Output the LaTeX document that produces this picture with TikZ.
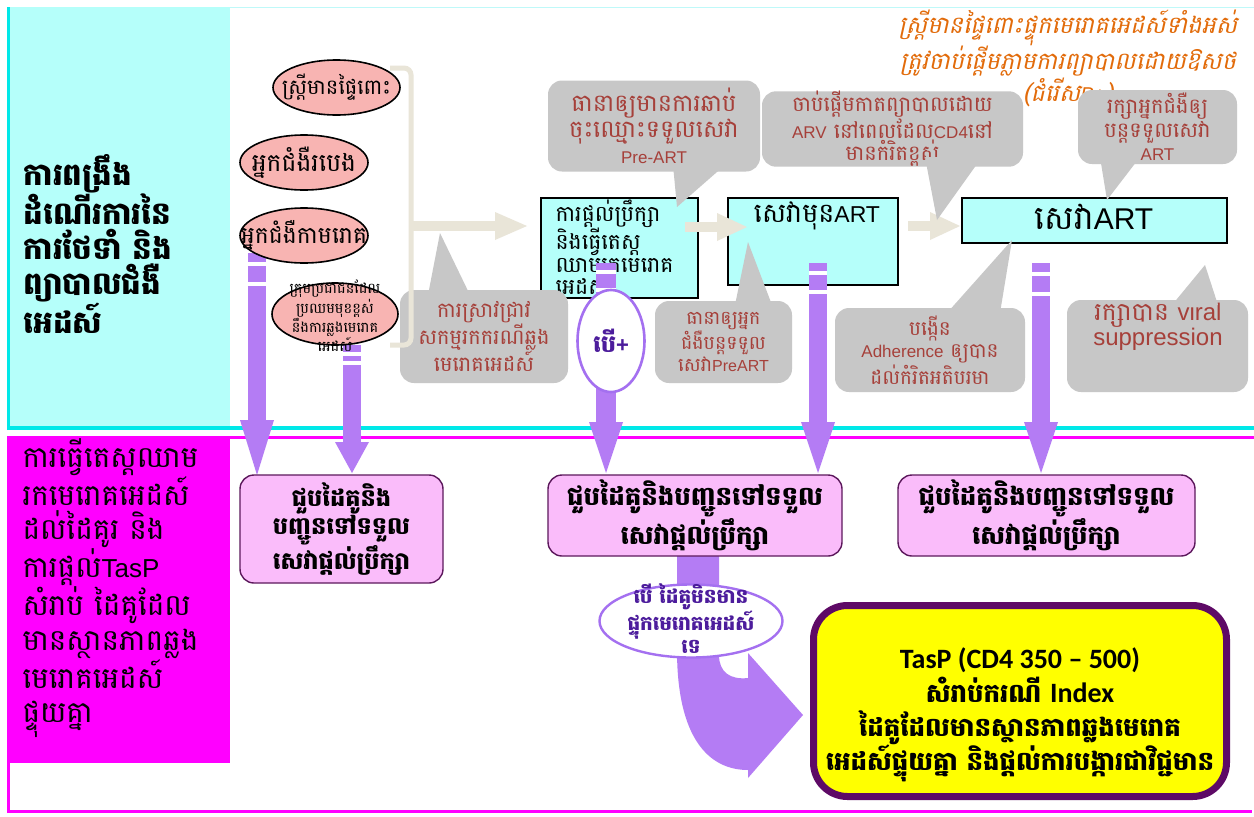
\documentclass[tikz,border=0pt]{standalone}
\usepackage{fontspec}
\usetikzlibrary{shapes.geometric}
\newfontfamily\kh[Script=Khmer]{Battambang}
\newfontfamily\khit[Script=Khmer,FakeSlant=0.22]{Battambang}
\newfontfamily\la{Liberation Sans}
\newfontfamily\calib{Carlito}
\newcommand\fs[2]{\fontsize{#1}{#2}\selectfont}
\newcommand\LT[2]{{\la\fontsize{#1}{#1}\selectfont #2}}
\definecolor{cyanfill}{RGB}{181,255,250}
\definecolor{cyanline}{RGB}{0,232,232}
\definecolor{magc}{RGB}{255,0,255}
\definecolor{pinkell}{RGB}{248,180,178}
\definecolor{cgray}{RGB}{199,199,199}
\definecolor{cred}{RGB}{166,64,58}
\definecolor{beigec}{RGB}{233,229,216}
\definecolor{parrowc}{RGB}{180,124,244}
\definecolor{pboxfill}{RGB}{250,188,250}
\definecolor{pboxline}{RGB}{92,24,92}
\definecolor{bpline}{RGB}{164,112,240}
\definecolor{bptext}{RGB}{76,28,156}
\definecolor{yfill}{RGB}{255,255,0}
\definecolor{yline}{RGB}{94,10,102}
\definecolor{orangec}{RGB}{226,107,10}
\newcommand\purparrow[7]{%
  \fill[parrowc] (#1-#5,#2) rectangle (#1+#5,#3);
  \fill[parrowc] (#1-17,#3) -- (#1+17,#3) -- (#1,#4) -- cycle;
  \fill[white] (#1-#5,#6) rectangle (#1+#5,#6+3.5);
  \fill[white] (#1-#5,#7) rectangle (#1+#5,#7+3.5);}
\newcommand\beigearrow[4]{%
  \fill[beigec] (#1,#4-5) rectangle (#2,#4+5);
  \fill[beigec] (#2,#4-14) -- (#3,#4) -- (#2,#4+14) -- cycle;}
\begin{document}
\begin{tikzpicture}[x=1pt,y=-1pt,
  ell/.style={ellipse, draw=black, line width=1.6pt, fill=pinkell, inner sep=0pt},
  elltext/.style={inner sep=0pt, align=center, font=\kh\fs{21}{22}},
  cbox/.style={rectangle, draw=black, line width=1.5pt, fill=cyanfill, inner sep=0pt},
  call/.style={rectangle, rounded corners=14pt, fill=cgray, inner sep=0pt, text=cred, align=center, font=\kh\fs{21}{24}},
  pbox/.style={rectangle, rounded corners=14pt, draw=pboxline, line width=1.4pt, fill=pboxfill, align=center, inner sep=0pt, font=\kh\bfseries\fs{24}{28}},
  ptr/.style={fill=cgray}]
\useasboundingbox (0,0) rectangle (1254,817);
\fill[white] (0,0) rectangle (1254,817);
% backgrounds
\draw[cyanline!25, line width=1pt] (230,7) -- (1254,7);
\fill[cyanfill] (8,7) rectangle (230,428);
\fill[cyanline] (7,7) rectangle (10,428);
\fill[cyanline] (7,426) rectangle (1254,430);
\fill[magc] (7,436) rectangle (1254,439);
\fill[magc] (7,437) rectangle (230,763);
\fill[magc] (7,437) rectangle (10,813);
\fill[magc] (7,810) rectangle (1252,813);
% left texts
\node[anchor=west, align=left, font=\kh\bfseries\fs{31}{35}] (head) at (20,244)
  {ការពង្រឹង\\ដំណើរការនៃ\\ការថែទាំ និង\\ព្យាបាលជំងឺ\\អេដស៍};
\node[anchor=west, align=left, font=\kh\fs{29.5}{34.5}] (mtext) at (19,588)
  {ការធ្វើតេស្តឈាម\\រកមេរោគអេដស៍\\ដល់ដៃគូរ និង\\ការផ្តល់\LT{26}{TasP}\\សំរាប់ ដៃគូដែល\\មានស្ថានភាពឆ្លង\\មេរោគអេដស៍\\ផ្ទុយគ្នា};
% orange note
\node[align=center, text=orangec, font=\khit\fs{24}{25.5}] (note) at (1068,58)
  {ស្ត្រីមានផ្ទៃពោះផ្ទុកមេរោគអេដស៍ទាំងអស់\\ត្រូវចាប់ផ្តើមភ្លាមការព្យាបាលដោយឱសថ\\(ជំរើស{\la\itshape\fontsize{20}{20}\selectfont B+})};
% cyan boxes
\node[cbox, minimum width=157pt, minimum height=100pt] (b1) at (619.5,248) {};
\node[anchor=west, align=left, font=\kh\fs{22}{22.3}] (b1t) at (552,247)
  {ការផ្តល់ប្រឹក្សា\\និងធ្វើតេស្ត\\ឈាមរកមេរោគ\\អេដស៍};
\node[cbox, minimum width=170pt, minimum height=87pt] (b2) at (813,241.5) {};
\node[font=\kh\fs{27}{28}] (b2t) at (817,216) {សេវាមុន\LT{23}{ART}};
\node[cbox, minimum width=265pt, minimum height=45pt] (b3) at (1094.5,220.5) {};
\node[font=\kh\fs{33}{34}] (b3t) at (1094,217) {សេវា\LT{30}{ART}};
% beige arrows between boxes
\beigearrow{685}{717}{747}{227}
\beigearrow{908}{930}{960}{226}
% purple arrows
\purparrow{257}{253}{420}{475}{9}{262}{282}
\purparrow{352}{345}{442}{473}{9}{352}{361}
\purparrow{606}{263}{422}{473}{10}{270}{288}
\purparrow{818}{263}{422}{473}{9}{271}{290}
\purparrow{1041}{263}{422}{473}{9}{272}{292}
% pink ellipses
\node[ell, minimum width=127pt, minimum height=55pt] (e1) at (336.5,87.5) {};
\node[elltext] (e1t) at (e1.center) {ស្ត្រីមានផ្ទៃពោះ};
\node[ell, minimum width=128pt, minimum height=55pt] (e2) at (304,162.5) {};
\node[elltext, font=\kh\fs{25}{26}] (e2t) at (e2.center) {អ្នកជំងឺរបេង};
\node[ell, minimum width=128pt, minimum height=55pt] (e3) at (304,235.5) {};
\node[elltext, font=\kh\fs{23.5}{26}] (e3t) at (e3.center) {អ្នកជំងឺកាមរោគ};
\node[ell, minimum width=126pt, minimum height=62pt] (e4) at (335,314) {};
\node[elltext, font=\kh\fs{14.5}{13.8}] (e4t) at (335,316)
  {ក្រុមប្រជាជនដែល\\ប្រឈមមុខខ្ពស់\\នឹងការឆ្លងមេរោគ\\អេដស៍};
% ellipse positive
\node[ellipse, draw=bpline, line width=2.6pt, fill=white, minimum width=67pt, minimum height=102pt, inner sep=0pt] (pos) at (611,341) {};
\node[inner sep=0pt, text=bptext, font=\kh\bfseries\fs{24}{24}] (post) at (pos.center) {បើ{\la\bfseries\fontsize{22}{22}\selectfont +}};
% callouts
\node[call, minimum width=168pt, minimum height=93pt] (cscan) at (484,336.5)
  {ការស្រាវជ្រាវ\\សកម្មរកករណីឆ្លង\\មេរោគអេដស៍};
\fill[ptr] (428,295) -- (440,233) -- (470,295) -- cycle;
\node[call, minimum width=212pt, minimum height=91pt, font=\kh\fs{24}{26}] (creg) at (654,126)
  {ធានាឲ្យមានការឆាប់\\ចុះឈ្មោះទទួលសេវា\\\LT{17}{Pre-ART}};
\fill[ptr] (673,165) -- (677,207) -- (725,165) -- cycle;
\node[call, minimum width=137pt, minimum height=82pt, font=\kh\fs{19}{22.5}] (cpre) at (723.5,342)
  {ធានាឲ្យអ្នក\\ជំងឺបន្តទទួល\\សេវា\LT{16}{PreART}};
\fill[ptr] (735,305) -- (748,242) -- (772,305) -- cycle;
\node[call, minimum width=261pt, minimum height=74pt, font=\kh\fs{21}{22.5}] (carv) at (892.5,129)
  {ចាប់ផ្តើមកាតព្យាបាលដោយ\\\LT{17}{ARV} នៅពេលដែល\LT{17}{CD4}នៅ\\មានកំរិតខ្ពស់};
\fill[ptr] (925,157) -- (937,220) -- (982,157) -- cycle;
\node[call, minimum width=159pt, minimum height=74pt, font=\kh\fs{21}{23.5}] (ckeep) at (1157.5,127)
  {រក្សាអ្នកជំងឺឲ្យ\\បន្តទទួលសេវា\\\LT{17}{ART}};
\fill[ptr] (1100,157) -- (1107,200) -- (1140,157) -- cycle;
\node[call, minimum width=190pt, minimum height=84pt, font=\kh\fs{20}{22.5}] (cadh) at (930,350)
  {បង្កើន\\\LT{17}{Adherence} ឲ្យបាន\\ដល់កំរិតអតិបរមា};
\fill[ptr] (947,313) -- (1012,240) -- (1000,313) -- cycle;
\node[call, minimum width=181pt, minimum height=92pt] (cvir) at (1157.5,346) {};
\node[align=center, text=cred, font=\kh\fs{25}{24}] (cvirt) at (1158,327) {រក្សាបាន \LT{24}{viral}\\\LT{24}{suppression}};
\fill[ptr] (1172,305) -- (1205,265) -- (1218,305) -- cycle;
% brace
\draw[beigec, line width=5pt, rounded corners=7pt] (390,68) -- (411,68) -- (411,345) -- (390,345);
\beigearrow{411}{495}{527}{226}
% bottom: curved arrow
\fill[parrowc] (677,550) -- (677,650) .. controls (677,740) and (710,770) .. (748,770)
  -- (748,778) -- (803,715) -- (748,653) -- (748,678)
  .. controls (730,680) and (719,672) .. (719,655) -- (719,550) -- cycle;
% pink boxes
\node[pbox, minimum width=203pt, minimum height=108pt] (p1) at (341.5,529)
  {ជួបដៃគូនិង\\បញ្ជូនទៅទទួល\\សេវាផ្តល់ប្រឹក្សា};
\node[pbox, minimum width=294pt, minimum height=81pt, font=\kh\bfseries\fs{26}{33}] (p2) at (695,515.5)
  {ជួបដៃគូនិងបញ្ជូនទៅទទួល\\សេវាផ្តល់ប្រឹក្សា};
\node[pbox, minimum width=297pt, minimum height=81pt, font=\kh\bfseries\fs{26}{33}] (p3) at (1046.5,515.5)
  {ជួបដៃគូនិងបញ្ជូនទៅទទួល\\សេវាផ្តល់ប្រឹក្សា};
% ellipse negative
\node[ellipse, draw=bpline, line width=2.4pt, fill=white, minimum width=183pt, minimum height=73pt, inner sep=0pt] (neg) at (691,621) {};
\node[inner sep=0pt, align=center, text=bptext, font=\kh\bfseries\fs{20}{18.5}] (negt) at (691,619)
  {បើ ដៃគូមិនមាន\\ផ្ទុកមេរោគអេដស៍\\ទេ};
% yellow box
\node[rectangle, rounded corners=34pt, draw=yline, line width=7pt, fill=yfill,
  minimum width=413pt, minimum height=191pt] (tasp) at (1020,701) {};
\node[align=center, font=\kh\bfseries\fs{26}{34}] (taspt) at (1020,715)
  {{\calib\bfseries\fontsize{28}{28}\selectfont TasP (CD4 350 – 500)}\\សំរាប់ករណី {\calib\bfseries\fontsize{28}{28}\selectfont Index}\\ដៃគូដែលមានស្ថានភាពឆ្លងមេរោគ\\អេដស៍ផ្ទុយគ្នា និងផ្តល់ការបង្ការជាវិជ្ជមាន};
\end{tikzpicture}
\end{document}
